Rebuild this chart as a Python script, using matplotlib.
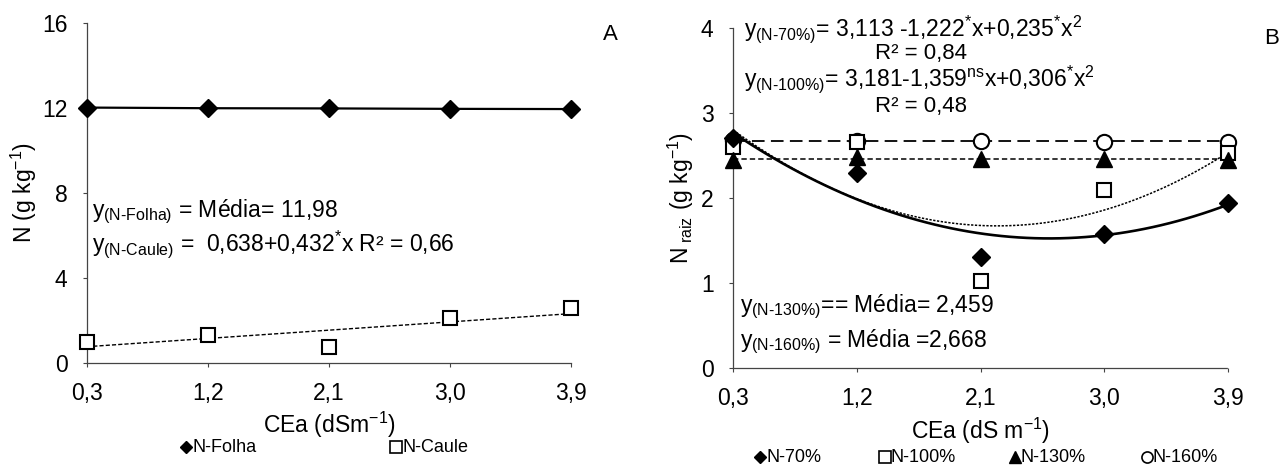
import numpy as np
import matplotlib
matplotlib.use("Agg")
import matplotlib.pyplot as plt
from matplotlib.lines import Line2D

plt.rcParams['font.family'] = ['Liberation Sans', 'DejaVu Sans']
plt.rcParams['mathtext.fontset'] = 'custom'
plt.rcParams['mathtext.rm'] = 'Liberation Sans'
plt.rcParams['mathtext.it'] = 'Liberation Sans'
plt.rcParams['mathtext.bf'] = 'Liberation Sans:bold'

# data
cea = [0.3, 1.2, 2.1, 3.0, 3.9]
cea_labels = ['0,3', '1,2', '2,1', '3,0', '3,9']

n_folha = [12.02, 11.99, 11.98, 11.96, 11.95]
n_caule = [1.0, 1.3, 0.75, 2.1, 2.6]
caule_coef = [0.638, 0.432]

n70 = [2.70, 2.29, 1.31, 1.58, 1.94]
n100 = [2.60, 2.66, 1.02, 2.09, 2.53]
n130 = [2.45, 2.48, 2.46, 2.46, 2.45]
n160 = [2.68, 2.67, 2.67, 2.66, 2.66]
n70_coef = [3.113, -1.222, 0.235]
n100_coef = [3.181, -1.359, 0.306]
n130_mean = 2.459
n160_mean = 2.668

W, H = 1280, 465
FS = 16.5
fig = plt.figure(figsize=(12.8, 4.65), dpi=100)


def px(x, y):
    return x / W, 1 - y / H


def style_axes(ax):
    for s in ['top', 'right']:
        ax.spines[s].set_visible(False)
    for s in ['left', 'bottom']:
        ax.spines[s].set_color('#444444')
        ax.spines[s].set_linewidth(0.9)
        ax.spines[s].set_linestyle((0, (2, 1)))
    ax.tick_params(direction='out', length=3, width=0.8, color='#444444',
                   labelsize=FS, pad=11)
    ax.set_xticks(cea)
    ax.set_xticklabels(cea_labels)
    ax.set_xlim(0.3, 3.9)


def legend_item(x, y, text, **mk):
    fig.add_artist(Line2D([x / W], [1 - y / H], transform=fig.transFigure,
                          ls='none', color='black', **mk))
    fig.text((x + 6) / W, 1 - y / H, text, fontsize=13, ha='left',
             va='center')


# ---------------- A ----------------
axA = fig.add_axes([87 / W, 102 / H, 484 / W, 340 / H])
style_axes(axA)
axA.set_ylim(0, 16)
axA.set_yticks([0, 4, 8, 12, 16])

axA.plot(cea, n_folha, color='black', lw=1.6, marker='D', ms=9,
         clip_on=False, zorder=3)
xs = np.linspace(0.3, 3.9, 60)
axA.plot(xs, caule_coef[0] + caule_coef[1] * xs, color='black', lw=1,
         ls=(0, (3, 1.5)))
axA.plot(cea, n_caule, ls='none', marker='s', ms=10.5, mfc='white',
         mec='black', mew=1.5, clip_on=False, zorder=3)

axA.set_xlabel('CEa (dSm$^{-1}$)', fontsize=FS, labelpad=3)
axA.set_ylabel('N (g kg$^{-1}$)', fontsize=FS, va='center')
axA.yaxis.set_label_coords((24 - 87) / 484, 0.5)

fig.text(*px(610, 35), 'A', fontsize=16, ha='center', va='center')
fig.text(*px(92, 212), r'y$_{(N\text{-}Folha)}$ = Média= 11,98',
         fontsize=FS, ha='left', va='center')
fig.text(*px(92, 244), r'y$_{(N\text{-}Caule)}$ =  0,638+0,432$^{*}$x R² = 0,66',
         fontsize=FS, ha='left', va='center')

legend_item(186, 447, 'N-Folha', marker='D', ms=6.5)
legend_item(396, 447, 'N-Caule', marker='s', ms=8, mfc='white', mew=1.2)

# ---------------- B ----------------
axB = fig.add_axes([733 / W, 97 / H, 495 / W, 340 / H])
style_axes(axB)
axB.set_ylim(0, 4)
axB.set_yticks([0, 1, 2, 3, 4])

axB.plot(xs, n160_mean * np.ones_like(xs), color='black', lw=1.3,
         ls=(0, (7, 3.5)))
axB.plot(xs, n130_mean * np.ones_like(xs), color='black', lw=1.1,
         ls=(0, (3.5, 2)))
axB.plot(xs, n100_coef[0] + n100_coef[1] * xs + n100_coef[2] * xs ** 2,
         color='black', lw=1.1, ls=(0, (1.5, 1)))
axB.plot(xs, n70_coef[0] + n70_coef[1] * xs + n70_coef[2] * xs ** 2,
         color='black', lw=1.9)

axB.plot(cea, n160, ls='none', marker='o', ms=11, mfc='white', mec='black',
         mew=1.5, clip_on=False, zorder=3)
axB.plot(cea, n100, ls='none', marker='s', ms=10, mfc='white', mec='black',
         mew=1.5, clip_on=False, zorder=4)
axB.plot(cea, n130, ls='none', marker='^', ms=11, color='black',
         clip_on=False, zorder=5)
axB.plot(cea, n70, ls='none', marker='D', ms=9, color='black',
         clip_on=False, zorder=6)

axB.set_xlabel('CEa (dS m$^{-1}$)', fontsize=FS, labelpad=4)
axB.set_ylabel('N$_{\\ raiz}$ (g kg$^{-1}$)', fontsize=FS, va='center')
axB.yaxis.set_label_coords((681 - 733) / 495, 0.5)

fig.text(*px(1272, 38), 'B', fontsize=16, ha='center', va='center')
fig.text(*px(744, 29), r'y$_{(N\text{-}70\%)}$= 3,113 -1,222$^{*}$x+0,235$^{*}$x$^{2}$',
         fontsize=FS, ha='left', va='center')
fig.text(*px(921, 53), 'R² = 0,84', fontsize=16, ha='center', va='center')
fig.text(*px(744, 79), r'y$_{(N\text{-}100\%)}$= 3,181-1,359$^{ns}$x+0,306$^{*}$x$^{2}$',
         fontsize=FS, ha='left', va='center')
fig.text(*px(921, 106), 'R² = 0,48', fontsize=16, ha='center', va='center')
fig.text(*px(740, 307), r'y$_{(N\text{-}130\%)}$== Média= 2,459',
         fontsize=FS, ha='left', va='center')
fig.text(*px(740, 342), r'y$_{(N\text{-}160\%)}$ = Média =2,668',
         fontsize=FS, ha='left', va='center')

legend_item(760, 457, 'N-70%', marker='D', ms=6.5)
legend_item(885, 457, 'N-100%', marker='s', ms=8, mfc='white', mew=1.2)
legend_item(1015, 457, 'N-130%', marker='^', ms=8)
legend_item(1147, 457, 'N-160%', marker='o', ms=8, mfc='white', mew=1.2)

fig.savefig('out.png', dpi=100)
